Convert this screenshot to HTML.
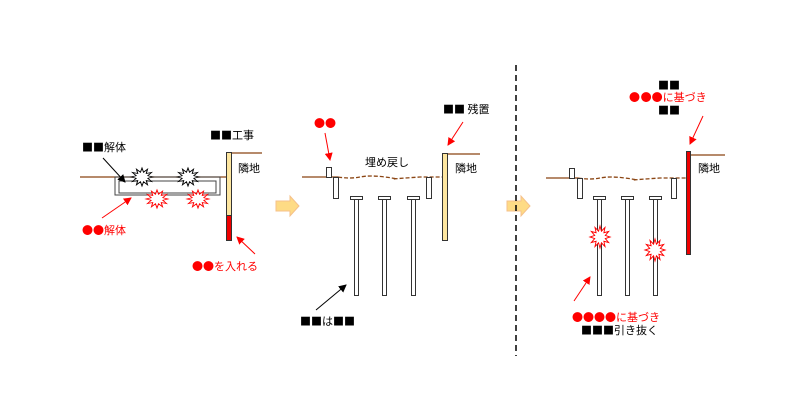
<!DOCTYPE html>
<html><head><meta charset="utf-8"><style>
html,body{margin:0;padding:0;background:#fff;}
svg{display:block;}
text{font-family:"Noto Sans CJK JP","Liberation Sans",sans-serif;font-size:11px;}
</style></head><body>
<svg width="800" height="413" viewBox="0 0 800 413" xmlns="http://www.w3.org/2000/svg">
<defs>
<polygon id="boom" points="10,0 5.31,1.42 8.66,5 3.89,3.89 5,8.66 1.42,5.31 0,10 -1.42,5.31 -5,8.66 -3.89,3.89 -8.66,5 -5.31,1.42 -10,0 -5.31,-1.42 -8.66,-5 -3.89,-3.89 -5,-8.66 -1.42,-5.31 0,-10 1.42,-5.31 5,-8.66 3.89,-3.89 8.66,-5 5.31,-1.42" fill="#fff" stroke-width="0.9"/>
<marker id="ab" markerWidth="8" markerHeight="8" refX="7" refY="4" orient="auto" markerUnits="userSpaceOnUse"><path d="M0,0 L8,4 L0,8 z" fill="#000"/></marker>
<marker id="ar" markerWidth="8" markerHeight="8" refX="7" refY="4" orient="auto" markerUnits="userSpaceOnUse"><path d="M0,0 L8,4 L0,8 z" fill="#f00"/></marker>
</defs>

<!-- Panel 1 -->
<line x1="80" y1="177" x2="228" y2="177" stroke="#8b4513" stroke-width="1.3"/>
<line x1="230" y1="153" x2="262" y2="153" stroke="#8b4513" stroke-width="1.3"/>
<rect x="115" y="177" width="105" height="18" fill="none" stroke="#444" stroke-width="1"/>
<rect x="119" y="181" width="97" height="12" fill="none" stroke="#444" stroke-width="1"/>
<rect x="226.5" y="152.5" width="5" height="63" fill="#fde6a0" stroke="#333" stroke-width="1"/>
<rect x="226.5" y="215.5" width="5" height="25" fill="#e00" stroke="#333" stroke-width="1"/>
<use href="#boom" transform="translate(142,177) scale(1.1,0.9)" stroke="#000"/>
<use href="#boom" transform="translate(188,177) scale(1.1,0.9)" stroke="#000"/>
<use href="#boom" transform="translate(157,199) scale(1.1,0.9)" stroke="#f00"/>
<use href="#boom" transform="translate(198,199) scale(1.1,0.9)" stroke="#f00"/>
<text x="210" y="139">■■工事</text>
<text x="238" y="172">隣地</text>
<text x="82" y="151">■■解体</text>
<line x1="103" y1="158" x2="125" y2="182" stroke="#000" stroke-width="1" marker-end="url(#ab)"/>
<line x1="102" y1="218" x2="131" y2="198" stroke="#f00" stroke-width="1" marker-end="url(#ar)"/>
<text x="82" y="234" fill="#f00">●●解体</text>
<line x1="255" y1="254" x2="237" y2="237" stroke="#f00" stroke-width="1" marker-end="url(#ar)"/>
<text x="192" y="270" fill="#f00">●●を入れる</text>

<!-- Arrows -->
<path d="M276,201 H290 V196 L299,206 L290,216 V211 H276 Z" fill="#fedb85" stroke="#f5c08a" stroke-width="1"/>
<path d="M507,201 H521 V196 L530,206 L521,216 V211 H507 Z" fill="#fedb85" stroke="#f5c08a" stroke-width="1"/>

<!-- Divider -->
<line x1="516" y1="65" x2="516" y2="356" stroke="#000" stroke-width="1.5" stroke-dasharray="6,4"/>

<!-- Panel 2 -->
<line x1="302" y1="177" x2="338" y2="177" stroke="#8b4513" stroke-width="1.3"/>
<path d="M338,177 Q350,179 360,177 T385,177 T395,179 T420,177 L442,177" fill="none" stroke="#8b4513" stroke-width="1.3" stroke-dasharray="4,2"/>
<line x1="447" y1="154" x2="480" y2="154" stroke="#8b4513" stroke-width="1.3"/>
<rect x="442.5" y="153.5" width="5" height="87" fill="#fde6a0" stroke="#333" stroke-width="1"/>
<rect x="326.5" y="167.5" width="5" height="10" fill="#fff" stroke="#333" stroke-width="1"/>
<rect x="333.5" y="177.5" width="5" height="21" fill="#fff" stroke="#333" stroke-width="1"/>
<rect x="426.5" y="177.5" width="5" height="21" fill="#fff" stroke="#333" stroke-width="1"/>
<g fill="#fff" stroke="#333" stroke-width="1">
<rect x="350.5" y="196.5" width="12" height="3"/><rect x="354.5" y="199.5" width="4" height="96"/>
<rect x="378.5" y="196.5" width="12" height="3"/><rect x="382.5" y="199.5" width="4" height="96"/>
<rect x="407.5" y="196.5" width="12" height="3"/><rect x="411.5" y="199.5" width="4" height="96"/>
</g>
<text x="365" y="166">埋め戻し</text>
<text x="455" y="172">隣地</text>
<text x="443" y="113">■■ 残置</text>
<line x1="463" y1="122" x2="448" y2="145" stroke="#f00" stroke-width="1" marker-end="url(#ar)"/>
<text x="314" y="127" fill="#f00">●●</text>
<line x1="325" y1="133" x2="330" y2="160" stroke="#f00" stroke-width="1" marker-end="url(#ar)"/>
<line x1="316" y1="310" x2="346" y2="285" stroke="#000" stroke-width="1" marker-end="url(#ab)"/>
<text x="300" y="325">■■は■■</text>

<!-- Panel 3 -->
<line x1="546" y1="178" x2="578" y2="178" stroke="#8b4513" stroke-width="1.3"/>
<path d="M578,178 Q590,180 600,178 T625,178 T635,180 T660,178 L686,178" fill="none" stroke="#8b4513" stroke-width="1.3" stroke-dasharray="4,2"/>
<line x1="691" y1="155" x2="725" y2="155" stroke="#8b4513" stroke-width="1.3"/>
<rect x="686.5" y="151.5" width="4" height="103" fill="#e00" stroke="#333" stroke-width="1"/>
<rect x="569.5" y="168.5" width="5" height="10" fill="#fff" stroke="#333" stroke-width="1"/>
<rect x="577.5" y="178.5" width="5" height="20" fill="#fff" stroke="#333" stroke-width="1"/>
<rect x="671.5" y="178.5" width="5" height="20" fill="#fff" stroke="#333" stroke-width="1"/>
<g fill="#fff" stroke="#333" stroke-width="1">
<rect x="593.5" y="196.5" width="12" height="3"/><rect x="597.5" y="199.5" width="4" height="96"/>
<rect x="621.5" y="196.5" width="12" height="3"/><rect x="625.5" y="199.5" width="4" height="96"/>
<rect x="649.5" y="196.5" width="12" height="3"/><rect x="653.5" y="199.5" width="4" height="96"/>
</g>
<use href="#boom" transform="translate(600,237) scale(1,1.1)" stroke="#f00"/>
<use href="#boom" transform="translate(655,250) scale(1,1.1)" stroke="#f00"/>
<text x="698" y="172">隣地</text>
<text x="658" y="89">■■</text>
<text x="629" y="101" fill="#f00">●&#8202;●●に基づき</text>
<text x="658" y="114">■■</text>
<line x1="703" y1="116" x2="690" y2="144" stroke="#f00" stroke-width="1" marker-end="url(#ar)"/>
<line x1="574" y1="301" x2="590" y2="277" stroke="#f00" stroke-width="1" marker-end="url(#ar)"/>
<text x="572" y="321" fill="#f00">●●●●に基づき</text>
<text x="581" y="334">■■■引き抜く</text>
</svg>
</body></html>
